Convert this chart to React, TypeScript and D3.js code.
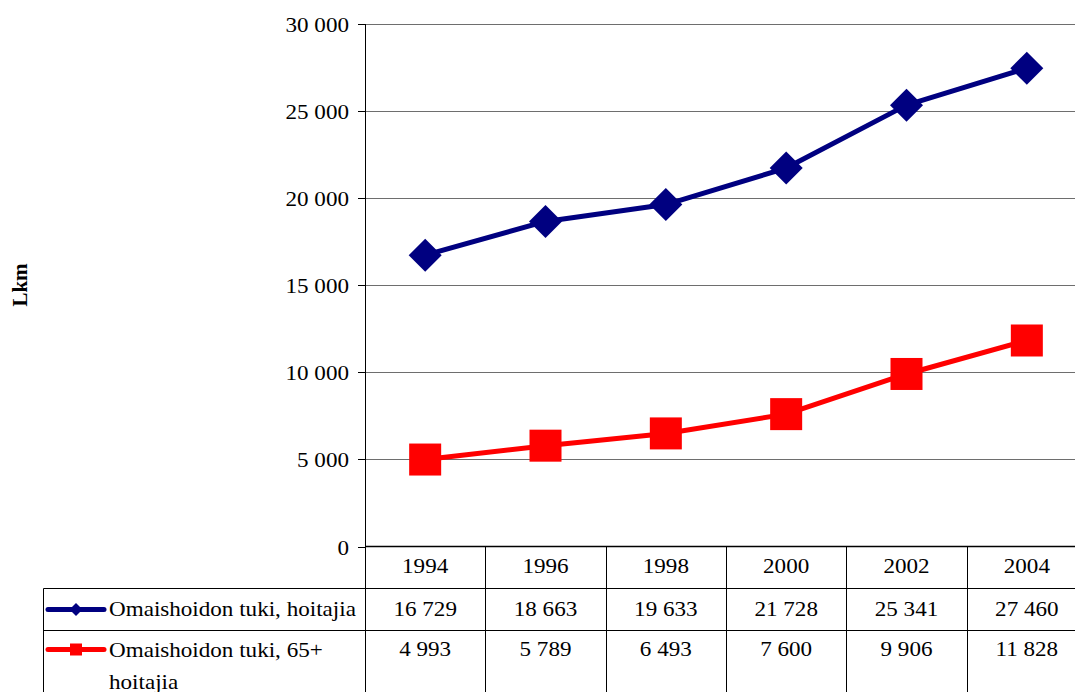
import React from "react";
import * as d3 from "d3";

const years = ["1994", "1996", "1998", "2000", "2002", "2004"];
const carers = [16729, 18663, 19633, 21728, 25341, 27460];
const carers65 = [4993, 5789, 6493, 7600, 9906, 11828];
const yTicks = [0, 5000, 10000, 15000, 20000, 25000, 30000];
const seriesNames = ["Omaishoidon tuki, hoitajia", "Omaishoidon tuki, 65+ hoitajia"];
const axisTitle = "Lkm";

const W = 1075;
const H = 692;
const FONT = "Liberation Serif, Times New Roman, DejaVu Serif, serif";
const FS = 21;
const SX = 1.1;

const fmt = (v: number) => String(v).replace(/\B(?=(\d{3})+(?!\d))/g, " ");

type TProps = {
  x: number;
  y: number;
  anchor?: "start" | "middle" | "end";
  children: React.ReactNode;
};

// Text drawn in the wide Times face used throughout the chart
function T({ x, y, anchor = "start", children }: TProps) {
  return (
    <text
      transform={`translate(${x},${y}) scale(${SX},1)`}
      textAnchor={anchor}
      dominantBaseline="central"
      style={{ fontFamily: FONT, fontSize: FS }}
      fill="#000"
    >
      {children}
    </text>
  );
}

export default function App() {
  const plotLeft = 365;
  const plotRight = 1087;
  const plotTop = 24;
  const plotBottom = 546.5;
  const y = d3.scaleLinear().domain([0, 30000]).range([plotBottom, plotTop]);
  const x = d3.scaleBand().domain(years).range([plotLeft, plotRight]);
  const cx = (yr: string) => (x(yr) as number) + x.bandwidth() / 2;

  const line = d3
    .line<number>()
    .x((_, i) => cx(years[i]))
    .y((d) => y(d));

  const row0 = 546.5;
  const row1 = 588.5;
  const row2 = 630.5;
  const legLeft = 43.5;

  const diamond = (px: number, py: number, r: number) =>
    `M${px},${py - r}L${px + r},${py}L${px},${py + r}L${px - r},${py}Z`;

  const [line1, line2] = ["Omaishoidon tuki, 65+", "hoitajia"];

  return (
    <svg
      width={W}
      height={H}
      style={{ position: "absolute", left: 0, top: 0, background: "#fff", fontFamily: FONT }}
    >
      {/* gridlines, tick marks and tick labels */}
      {yTicks.map((t) => {
        const ty = Math.round(y(t)) + 0.5;
        return (
          <g key={t}>
            {t > 0 && (
              <line x1={plotLeft} x2={plotRight} y1={ty} y2={ty} stroke="#6e6e6e" strokeWidth={1} />
            )}
            <line x1={358} x2={plotLeft} y1={ty} y2={ty} stroke="#000" />
            <T x={349} y={ty} anchor="end">
              {fmt(t)}
            </T>
          </g>
        );
      })}
      {/* value axis */}
      <line x1={plotLeft + 0.5} x2={plotLeft + 0.5} y1={plotTop} y2={H} stroke="#000" />

      {/* axis title */}
      <text
        transform={`translate(20,285) rotate(-90)`}
        textAnchor="middle"
        dominantBaseline="central"
        style={{ fontFamily: FONT, fontSize: 21, fontWeight: "bold" }}
      >
        {axisTitle}
      </text>

      {/* data table grid */}
      <line x1={plotLeft} x2={plotRight} y1={row0} y2={row0} stroke="#000" strokeWidth={1.5} />
      <line x1={legLeft} x2={plotRight} y1={row1} y2={row1} stroke="#000" />
      <line x1={legLeft} x2={plotRight} y1={row2} y2={row2} stroke="#000" />
      <line x1={legLeft} x2={legLeft} y1={row1} y2={H} stroke="#000" />
      {years.map((yr) => {
        const bx = Math.round((x(yr) as number) + x.bandwidth()) + 0.5;
        return <line key={yr} x1={bx} x2={bx} y1={row0} y2={H} stroke="#000" />;
      })}
      {years.map((yr, i) => (
        <g key={"t" + yr}>
          <T x={cx(yr)} y={566} anchor="middle">
            {yr}
          </T>
          <T x={cx(yr)} y={609} anchor="middle">
            {fmt(carers[i])}
          </T>
          <T x={cx(yr)} y={649} anchor="middle">
            {fmt(carers65[i])}
          </T>
        </g>
      ))}

      {/* legend keys */}
      <line x1={48} x2={104} y1={609.5} y2={609.5} stroke="#000080" strokeWidth={5} strokeLinecap="round" />
      <path d={diamond(76, 609.5, 6.5)} fill="#000080" />
      <T x={109} y={609}>
        {seriesNames[0]}
      </T>
      <line x1={48} x2={104} y1={649.5} y2={649.5} stroke="#ff0000" strokeWidth={5} strokeLinecap="round" />
      <rect x={70} y={643.5} width={12} height={12} fill="#ff0000" />
      <T x={109} y={650}>
        {line1}
      </T>
      <T x={109} y={682}>
        {line2}
      </T>

      {/* series */}
      <path d={line(carers) || ""} fill="none" stroke="#000080" strokeWidth={5} strokeLinejoin="round" />
      <path d={line(carers65) || ""} fill="none" stroke="#ff0000" strokeWidth={5} strokeLinejoin="round" />
      {carers.map((v, i) => (
        <path key={"d" + i} d={diamond(cx(years[i]), y(v), 16.5)} fill="#000080" />
      ))}
      {carers65.map((v, i) => (
        <rect key={"s" + i} x={cx(years[i]) - 16} y={y(v) - 16} width={32} height={32} fill="#ff0000" />
      ))}
    </svg>
  );
}
